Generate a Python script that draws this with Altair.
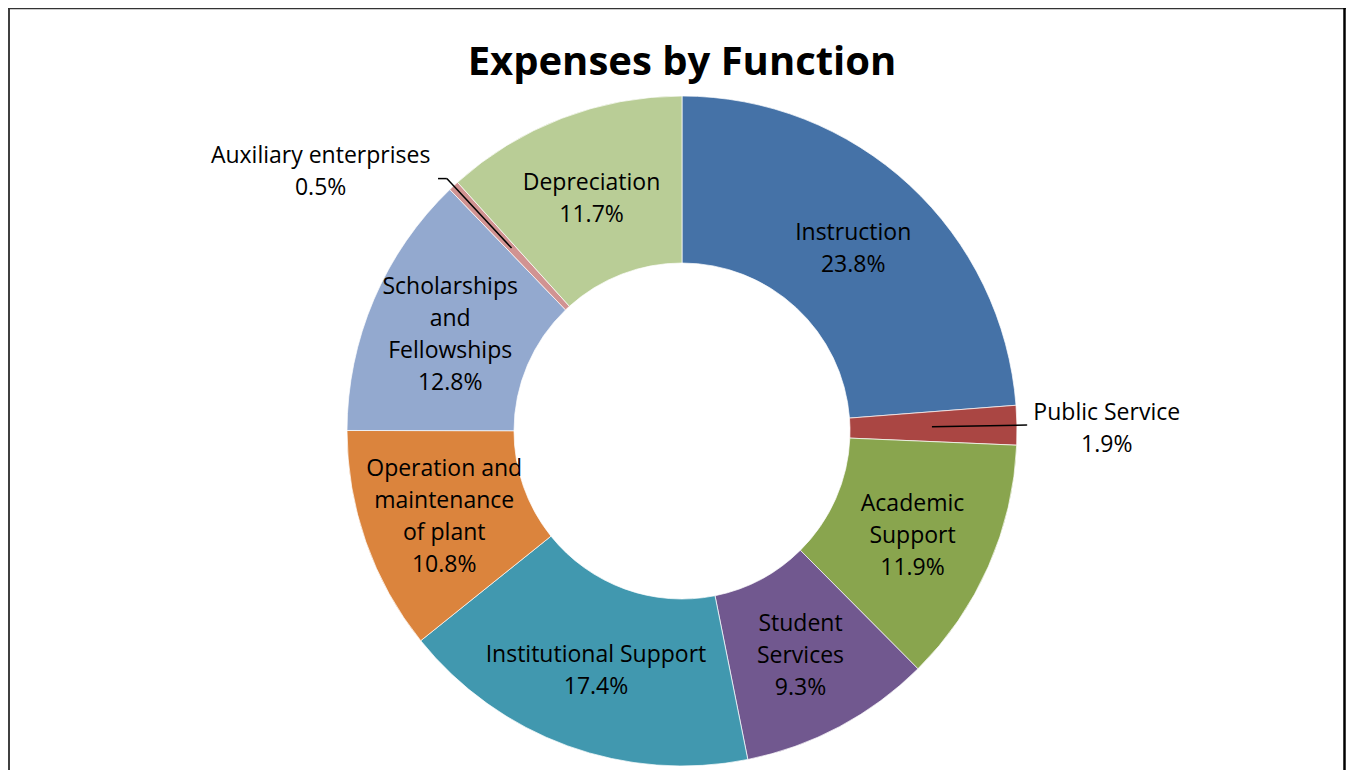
import altair as alt
import pandas as pd

# ---- data ----
categories = [
    "Instruction", "Public Service", "Academic Support", "Student Services",
    "Institutional Support", "Operation and maintenance of plant",
    "Scholarships and Fellowships", "Auxiliary enterprises", "Depreciation",
]
display_names = [
    "Instruction", "Public Service", "Academic\nSupport", "Student\nServices",
    "Institutional Support", "Operation and\nmaintenance\nof plant",
    "Scholarships\nand\nFellowships", "Auxiliary enterprises", "Depreciation",
]
percent = [23.8, 1.9, 11.9, 9.3, 17.4, 10.8, 12.8, 0.5, 11.7]
palette = ["#4572A7", "#AA4643", "#89A54E", "#71588F", "#4198AF",
           "#DB843D", "#93A9CF", "#D19392", "#B9CD96"]
title_text = "Expenses by Function"

df = pd.DataFrame({
    "idx": list(range(len(categories))),
    "cat": categories,
    "name": display_names,
    "pct": percent,
})

W, H = 1338, 762
CX, CY = 674, 423
R_OUT, R_IN = 335, 168
R_LAB = 252
LH = 32
FS = 23
FONT = "Open Sans"

arcs = alt.Chart(df).mark_arc(
    radius=R_OUT, innerRadius=R_IN, stroke="#ffffff", strokeWidth=0.7
).encode(
    theta=alt.Theta("pct:Q", stack=True),
    order=alt.Order("idx:Q"),
    color=alt.Color("cat:N", scale=alt.Scale(domain=categories, range=palette), legend=None),
    x=alt.value(CX),
    y=alt.value(CY),
)

base = (
    alt.Chart(df)
    .transform_window(cum="sum(pct)", sort=[alt.SortField("idx")], frame=[None, 0])
    .transform_joinaggregate(total="sum(pct)")
    .transform_calculate(mid="2*PI*(datum.cum - datum.pct/2)/datum.total")
    .transform_calculate(txt="datum.name + '\\n' + format(datum.pct, '.1f') + '%'")
    .transform_calculate(nl="length(split(datum.txt, '\\n'))")
    .transform_calculate(s="sin(datum.mid)")
    .transform_calculate(c="cos(datum.mid)")
)

inside = (
    base.transform_filter("datum.pct >= 3")
    .transform_calculate(lx=f"{CX} + {R_LAB}*datum.s")
    .transform_calculate(ly=f"{CY} - {R_LAB}*datum.c - (datum.nl - 1)*{LH}/2")
    .mark_text(font=FONT, fontSize=FS, lineHeight=LH, lineBreak="\n", dy=3,
               align="center", baseline="middle", color="#000000")
    .encode(
        x=alt.X("lx:Q", scale=None, axis=None),
        y=alt.Y("ly:Q", scale=None, axis=None),
        text="txt:N",
    )
)

out_base = (
    base.transform_filter("datum.pct < 3")
    .transform_calculate(sg="datum.s < 0 ? -1 : 1")
    .transform_calculate(x1=f"{CX} + 250*datum.s")
    .transform_calculate(y1=f"{CY} - 250*datum.c")
    .transform_calculate(x2=f"{CX} + 345*datum.s")
    .transform_calculate(y2=f"{CY} - 345*datum.c")
    .transform_calculate(x3="datum.x2 + datum.sg*12*abs(datum.c)")
    .transform_calculate(tx="datum.x3 + datum.sg*(5.4*length(datum.name) + 4)")
    .transform_calculate(ty=f"datum.y2 - (datum.nl - 1)*{LH}/2 - 14*datum.c")
)

leader_radial = out_base.mark_rule(color="#000000", strokeWidth=1.5).encode(
    x=alt.X("x1:Q", scale=None, axis=None),
    y=alt.Y("y1:Q", scale=None, axis=None),
    x2="x2:Q",
    y2="y2:Q",
)
leader_tick = out_base.mark_rule(color="#000000", strokeWidth=1.5).encode(
    x=alt.X("x2:Q", scale=None, axis=None),
    x2="x3:Q",
    y=alt.Y("y2:Q", scale=None, axis=None),
)
outside = out_base.mark_text(
    font=FONT, fontSize=FS, lineHeight=LH, lineBreak="\n", dy=4,
    align="center", baseline="middle", color="#000000"
).encode(
    x=alt.X("tx:Q", scale=None, axis=None),
    y=alt.Y("ty:Q", scale=None, axis=None),
    text="txt:N",
)

title = alt.Chart(pd.DataFrame({"t": [title_text]})).mark_text(
    font=FONT, fontSize=40, fontWeight="bold", align="center",
    baseline="alphabetic", color="#000000"
).encode(x=alt.value(CX), y=alt.value(67), text="t:N")

frame_df = pd.DataFrame({"k": [0]})
frame_left = alt.Chart(frame_df).mark_rule(color="#000000", strokeWidth=1.5).encode(
    x=alt.value(1), y=alt.value(0), y2=alt.value(H))
frame_top = alt.Chart(frame_df).mark_rule(color="#333333", strokeWidth=1.5).encode(
    x=alt.value(0), x2=alt.value(W), y=alt.value(0.5))
frame_right = alt.Chart(frame_df).mark_rule(color="#000000", strokeWidth=2.5).encode(
    x=alt.value(W - 1.5), y=alt.value(0), y2=alt.value(H))

chart = alt.layer(
    arcs, inside, leader_radial, leader_tick, outside, title,
    frame_left, frame_top, frame_right,
).properties(
    width=W, height=H, padding=0,
    autosize=alt.AutoSizeParams(type="none"),
    background="#ffffff",
).configure_view(stroke=None)

chart.save("out.html", embed_options={"renderer": "svg", "actions": False})
